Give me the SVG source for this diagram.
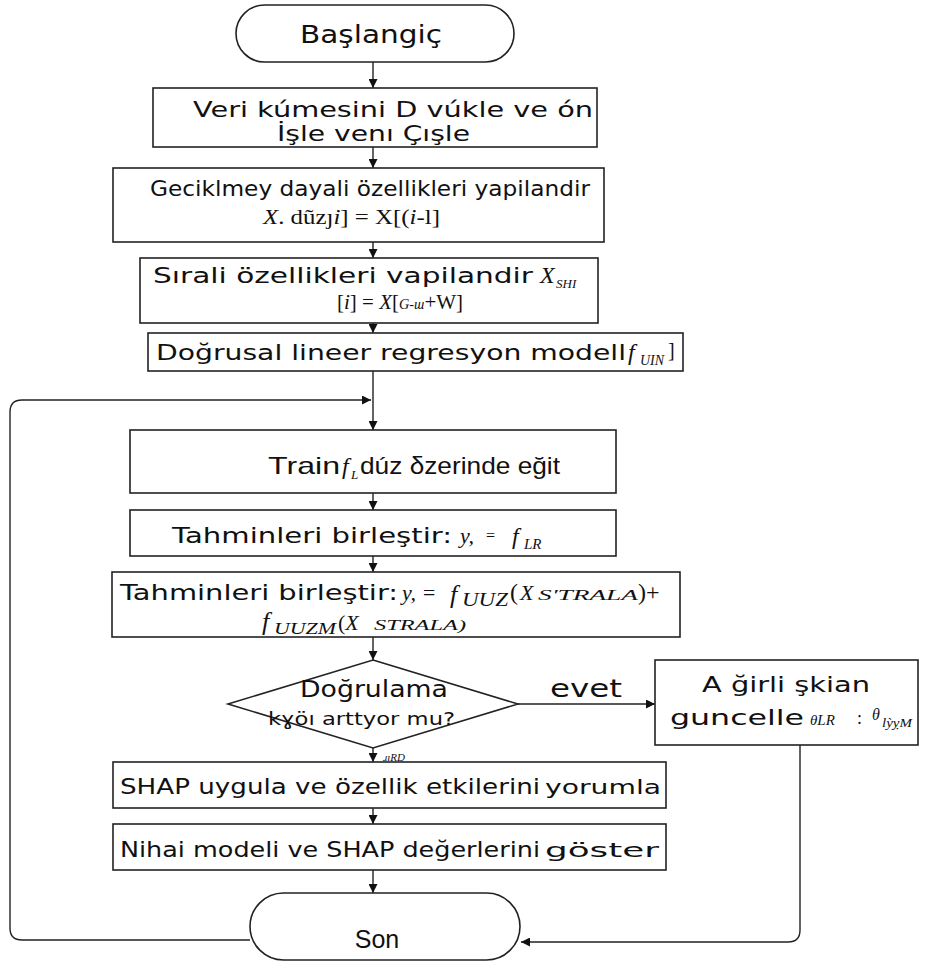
<svg xmlns="http://www.w3.org/2000/svg" width="934" height="978" viewBox="0 0 934 978">
<defs>
<marker id="ah" viewBox="0 0 10 10" refX="10" refY="5" markerWidth="10" markerHeight="9" markerUnits="userSpaceOnUse" orient="auto">
<path d="M0,0 L10,5 L0,10 z" fill="#111"/>
</marker>
<style>
.box{fill:#fff;stroke:#222;stroke-width:1.6}
.ln{fill:none;stroke:#222;stroke-width:1.4}
.s{font-family:"DejaVu Sans","Liberation Sans",sans-serif;fill:#111}
.n{font-family:"Liberation Sans Narrow","Liberation Sans",sans-serif;fill:#111}
.m{font-family:"Liberation Serif","DejaVu Serif",serif;font-style:italic;fill:#111}
.r{font-family:"Liberation Serif","DejaVu Serif",serif;fill:#111}
</style>
</defs>
<rect width="934" height="978" fill="#fff"/>

<g id="connectors">
<line class="ln" x1="373" y1="62" x2="373" y2="88" marker-end="url(#ah)"/>
<line class="ln" x1="373" y1="147" x2="373" y2="168" marker-end="url(#ah)"/>
<line class="ln" x1="373" y1="242" x2="373" y2="258" marker-end="url(#ah)"/>
<line class="ln" x1="373" y1="323" x2="373" y2="333" marker-end="url(#ah)"/>
<line class="ln" x1="373" y1="371" x2="373" y2="430" marker-end="url(#ah)"/>
<path class="ln" d="M250,940 H22 Q10,940 10,928 V412 Q10,400 22,400 H371" marker-end="url(#ah)"/>
<line class="ln" x1="373" y1="493" x2="373" y2="510" marker-end="url(#ah)"/>
<line class="ln" x1="373" y1="556" x2="373" y2="572" marker-end="url(#ah)"/>
<line class="ln" x1="373" y1="637" x2="373" y2="660" marker-end="url(#ah)"/>
<line class="ln" x1="518" y1="704" x2="655" y2="704" marker-end="url(#ah)"/>
<line class="ln" x1="373" y1="748" x2="373" y2="762" marker-end="url(#ah)"/>
<line class="ln" x1="373" y1="808" x2="373" y2="824" marker-end="url(#ah)"/>
<line class="ln" x1="373" y1="870" x2="373" y2="893" marker-end="url(#ah)"/>
<path class="ln" d="M800,745 V930 Q800,942 788,942 H521" marker-end="url(#ah)"/>
<text x="550" y="697" class="s" font-size="24" textLength="72" lengthAdjust="spacingAndGlyphs">evet</text>
<text x="383" y="761" class="m" font-size="11">ɹıRD</text>
</g>

<g id="start">
<rect class="box" x="236" y="5" width="278" height="57" rx="28.5"/>
<text x="300" y="43" class="s" font-size="24" textLength="142" lengthAdjust="spacingAndGlyphs">Başlangiç</text>
</g>

<g id="n1">
<rect class="box" x="153" y="88" width="444" height="59"/>
<text x="193" y="117" class="s" font-size="22" textLength="400" lengthAdjust="spacingAndGlyphs">Veri kúmesini D vúkle ve ón</text>
<text x="277" y="141" class="s" font-size="22" textLength="193" lengthAdjust="spacingAndGlyphs">İşle venı Çışle</text>
</g>

<g id="n2">
<rect class="box" x="113" y="168" width="491" height="74"/>
<text x="150" y="196" class="s" font-size="22" textLength="440" lengthAdjust="spacingAndGlyphs">Geciklmey dayali özellikleri yapilandir</text>
<text x="263" y="224" class="r" font-size="22" textLength="177" lengthAdjust="spacingAndGlyphs"><tspan class="m">X</tspan>. dũzȷ<tspan class="m">i</tspan>] = X[(<tspan class="m">i</tspan>-l]</text>
</g>

<g id="n3">
<rect class="box" x="140" y="258" width="458" height="65"/>
<text x="153" y="283" class="s" font-size="22" textLength="380" lengthAdjust="spacingAndGlyphs">Sırali özellikleri vapilandir</text>
<text x="540" y="283" class="m" font-size="24">X</text>
<text x="556" y="288" class="m" font-size="13">SHI</text>
<text x="337" y="309" class="r" font-size="22" textLength="126" lengthAdjust="spacingAndGlyphs">[<tspan class="m">i</tspan>] = <tspan class="m">X</tspan>[<tspan class="m" font-size="15">G-ɯ</tspan>+W]</text>
</g>

<g id="n4">
<rect class="box" x="148" y="333" width="535" height="38"/>
<text x="156" y="360" class="s" font-size="22" textLength="470" lengthAdjust="spacingAndGlyphs">Doğrusal lineer regresyon modell</text>
<text x="628" y="360" class="m" font-size="24">f</text>
<text x="640" y="365" class="m" font-size="14">UIN</text>
<text x="668" y="357" class="r" font-size="20">]</text>
</g>

<g id="n5">
<rect class="box" x="130" y="430" width="486" height="63"/>
<text x="268" y="474" class="n" font-size="24" textLength="72" lengthAdjust="spacingAndGlyphs">Train</text>
<text x="342" y="474" class="m" font-size="24">f</text>
<text x="351" y="479" class="m" font-size="13">L</text>
<text x="360" y="474" class="n" font-size="24" textLength="200" lengthAdjust="spacingAndGlyphs">dúz δzerinde eğit</text>
</g>

<g id="n6">
<rect class="box" x="130" y="510" width="486" height="46"/>
<text x="172" y="543" class="s" font-size="22" textLength="280" lengthAdjust="spacingAndGlyphs">Tahminleri birleştir:</text>
<text x="460" y="543" class="m" font-size="22">y,</text>
<text x="486" y="541" class="r" font-size="16">=</text>
<text x="512" y="544" class="m" font-size="24">f</text>
<text x="524" y="549" class="m" font-size="15">LR</text>
</g>

<g id="n7">
<rect class="box" x="112" y="572" width="568" height="65"/>
<text x="120" y="600" class="s" font-size="22" textLength="278" lengthAdjust="spacingAndGlyphs">Tahminleri birleştir:</text>
<text x="402" y="600" class="m" font-size="22">y, = </text>
<text x="450" y="603" class="m" font-size="26">f</text>
<text x="462" y="606" class="m" font-size="18" textLength="46" lengthAdjust="spacingAndGlyphs">UUZ</text>
<text x="510" y="600" class="r" font-size="24">(</text>
<text x="520" y="600" class="m" font-size="22">X</text>
<text x="538" y="600" class="m" font-size="14" textLength="100" lengthAdjust="spacingAndGlyphs">S'TRALA</text>
<text x="638" y="600" class="r" font-size="24">)+</text>
<text x="262" y="630" class="m" font-size="26">f</text>
<text x="274" y="634" class="m" font-size="16" textLength="62" lengthAdjust="spacingAndGlyphs">UUZM</text>
<text x="338" y="630" class="r" font-size="22">(<tspan class="m">X</tspan></text>
<text x="374" y="630" class="m" font-size="14" textLength="92" lengthAdjust="spacingAndGlyphs">STRALA)</text>
</g>

<g id="decision">
<polygon class="box" points="373,660 518,704 373,748 228,704"/>
<text x="300" y="697" class="s" font-size="23" textLength="148" lengthAdjust="spacingAndGlyphs">Doğrulama</text>
<text x="268" y="725" class="s" font-size="17" textLength="187" lengthAdjust="spacingAndGlyphs">kɣöı arttyor mu?</text>
</g>

<g id="n8">
<rect class="box" x="655" y="660" width="263" height="85"/>
<text x="702" y="692" class="s" font-size="22" textLength="168" lengthAdjust="spacingAndGlyphs">A ğirli şkian</text>
<text x="670" y="725" class="s" font-size="22" textLength="134" lengthAdjust="spacingAndGlyphs">guncelle</text>
<text x="810" y="725" class="m" font-size="15">θLR</text>
<text x="857" y="724" class="r" font-size="18">:</text>
<text x="872" y="720" class="m" font-size="16">θ</text>
<text x="882" y="727" class="m" font-size="12" textLength="30" lengthAdjust="spacingAndGlyphs">lỳỵM</text>
</g>

<g id="n9">
<rect class="box" x="113" y="762" width="553" height="46"/>
<text x="120" y="794" class="s" font-size="22" textLength="420" lengthAdjust="spacingAndGlyphs">SHAP uygula ve özellik etkilerini</text>
<text x="545" y="794" class="s" font-size="20" textLength="116" lengthAdjust="spacingAndGlyphs">yorumla</text>
</g>

<g id="n10">
<rect class="box" x="113" y="824" width="553" height="46"/>
<text x="120" y="857" class="s" font-size="22" textLength="420" lengthAdjust="spacingAndGlyphs">Nihai modeli ve SHAP değerlerini</text>
<text x="545" y="857" class="s" font-size="19" textLength="114" lengthAdjust="spacingAndGlyphs">göster</text>
</g>

<g id="end">
<rect class="box" x="250" y="893" width="270" height="67" rx="33.5"/>
<text x="377" y="948" text-anchor="middle" class="n" font-size="25">Son</text>
</g>
</svg>
